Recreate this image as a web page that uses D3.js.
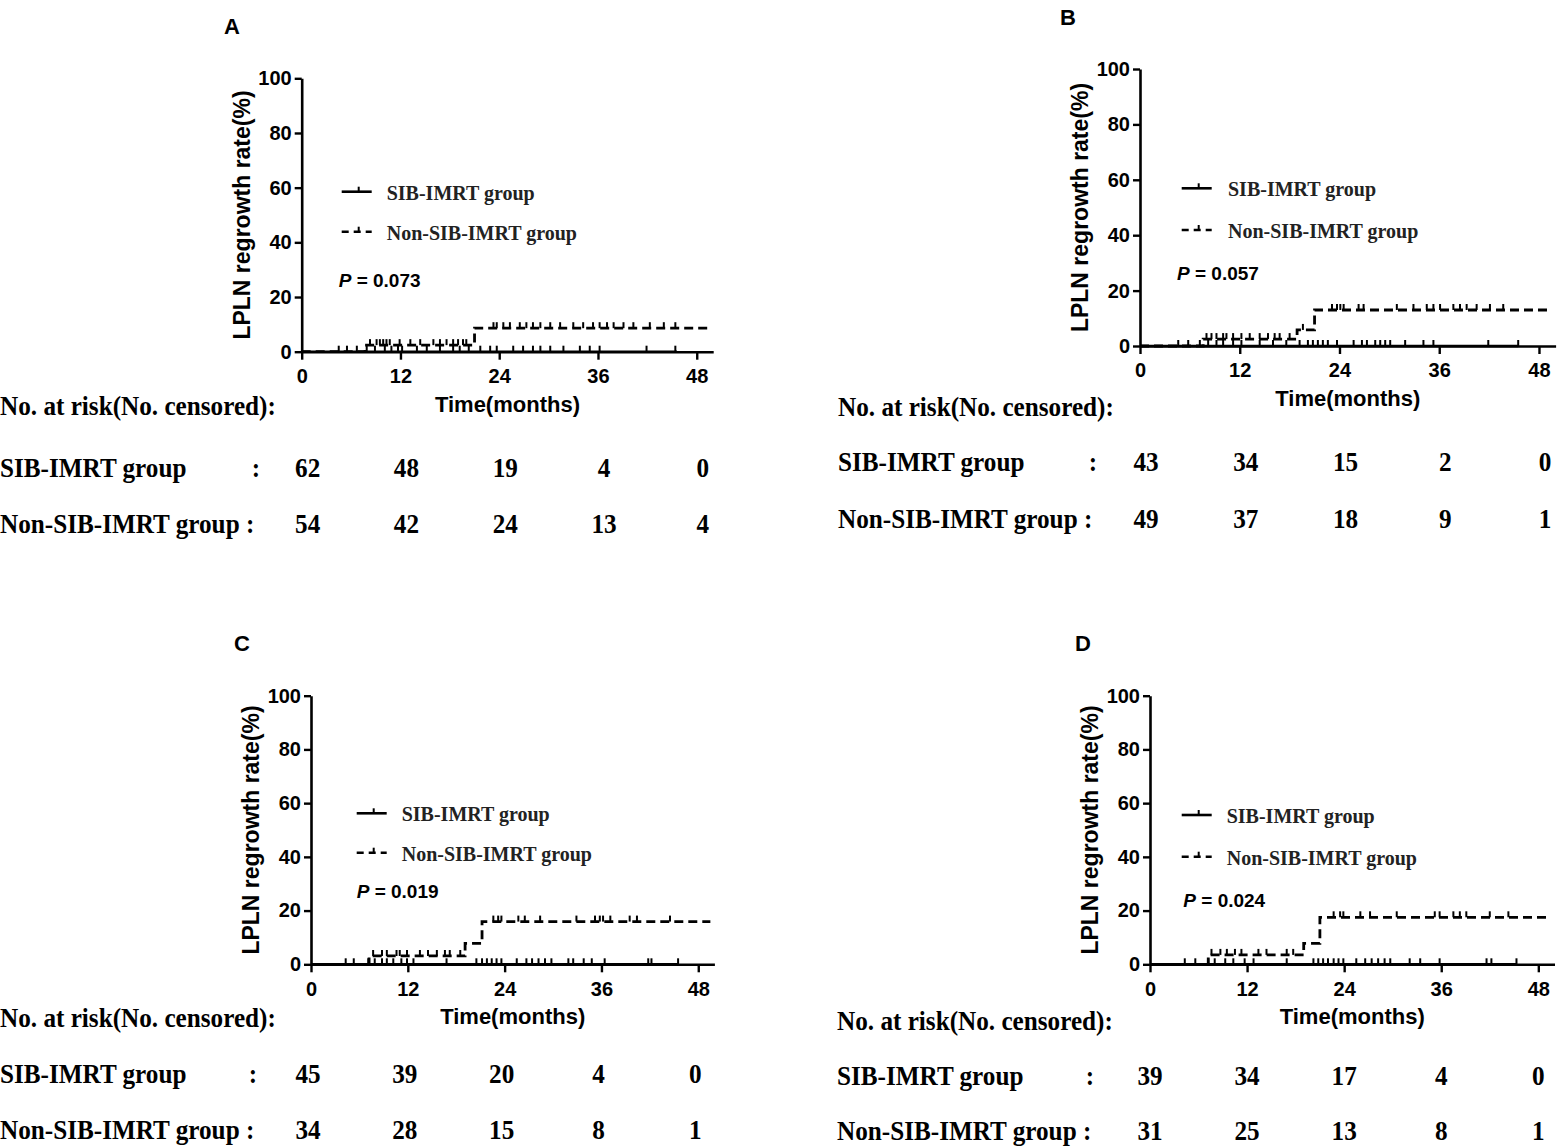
<!DOCTYPE html>
<html>
<head>
<meta charset="utf-8">
<script src="https://cdn.jsdelivr.net/npm/d3@7"></script>
<style>
  body { margin: 0; background: #fff; }
  svg { display: block; }
  .sans { font-family: "Liberation Sans", Arial, sans-serif; font-weight: bold; }
  .serif { font-family: "Liberation Serif", "Times New Roman", serif; font-weight: bold; }
</style>
</head>
<body>
<svg id="chart" width="1558" height="1146"></svg>
<script>
// ---- data ----
const timeTicks = [0, 12, 24, 36, 48]
const rateTicks = [0, 20, 40, 60, 80, 100]
const panelNames = ['A', 'B', 'C', 'D']
const groupNames = ['SIB-IMRT group', 'Non-SIB-IMRT group']
const pValues = ['0.073', '0.057', '0.019', '0.024']

// no. at risk at 0/12/24/36/48 months
const riskSib = [[62, 48, 19, 4, 0], [43, 34, 15, 2, 0], [45, 39, 20, 4, 0], [39, 34, 17, 4, 0]]
const riskNon = [[54, 42, 24, 13, 4], [49, 37, 18, 9, 1], [34, 28, 15, 8, 1], [31, 25, 13, 8, 1]]

// Kaplan-Meier steps of the Non-SIB group [month, rate %]
const stepsNonA = [[0, 0], [7.7, 2.4], [21.0, 8.6], [49.4, 8.6]]
const stepsNonB = [[0, 0], [7.6, 2.5], [18.9, 5.8], [21.0, 13.0], [49.1, 13.0]]
const stepsNonC = [[0, 0], [7.2, 3.1], [19.1, 7.8], [21.2, 15.9], [49.5, 15.9]]
const stepsNonD = [[0, 0], [7.2, 3.5], [19.0, 7.8], [21.0, 17.5], [49.2, 17.5]]

// SIB group never leaves 0
const stepsSibA = [[0, 0], [45.6, 0]]
const stepsSibB = [[0, 0], [45.5, 0]]
const stepsSibC = [[0, 0], [45.5, 0]]
const stepsSibD = [[0, 0], [45.3, 0]]

// censor marks (months)
const censorSibA = [4.5, 5.5, 6.7, 7.9, 8.9, 10.1, 10.9, 11.7, 12.2, 14.0, 15.2, 16.8, 18.4, 19.2, 20.3, 21.7, 22.9, 23.7, 25.7, 26.9, 28.1, 29.0, 30.2, 31.8, 33.8, 35.0, 36.2, 41.9, 45.4]
const censorNonA = [8.3, 9.1, 9.5, 9.9, 10.3, 10.7, 11.9, 13.2, 14.4, 16.0, 16.8, 17.6, 18.4, 19.0, 19.6, 20.0, 23.3, 23.7, 24.5, 25.3, 26.5, 27.3, 28.1, 29.0, 30.2, 31.4, 33.0, 34.2, 35.4, 36.2, 37.1, 37.9, 39.1, 40.3, 42.3, 44.0, 45.4]
const censorSibB = [4.6, 5.8, 7.2, 8.2, 9.2, 10.0, 11.2, 12.2, 14.4, 16.0, 17.6, 19.2, 20.2, 20.8, 21.4, 22.0, 22.6, 23.7, 25.7, 26.7, 27.3, 28.3, 28.9, 29.5, 30.1, 31.9, 34.1, 35.3, 41.9, 45.5]
const censorNonB = [8.0, 8.6, 9.2, 10.0, 10.4, 11.2, 12.2, 13.2, 14.4, 15.4, 16.2, 16.8, 18.0, 19.6, 23.1, 23.7, 24.1, 24.5, 26.3, 26.9, 30.9, 32.9, 34.5, 35.3, 36.1, 37.7, 38.5, 39.3, 40.5, 42.1, 43.7]
const censorSibC = [4.3, 5.3, 7.1, 7.9, 8.8, 9.4, 10.2, 11.2, 11.9, 12.7, 16.8, 20.5, 21.2, 21.8, 22.4, 23.0, 23.6, 25.5, 26.7, 27.4, 28.2, 29.0, 29.8, 31.9, 32.5, 33.8, 34.8, 36.4, 41.8, 42.2, 45.5]
const censorNonC = [7.7, 8.8, 9.4, 10.6, 11.0, 11.9, 13.5, 14.5, 15.6, 16.6, 17.2, 18.5, 22.6, 23.2, 23.6, 25.7, 26.5, 28.4, 32.9, 35.2, 35.8, 36.2, 37.1, 39.5, 40.4, 44.5]
const censorSibD = [4.3, 5.6, 7.2, 8.0, 9.3, 10.3, 11.7, 12.8, 16.9, 20.2, 20.8, 21.4, 22.0, 22.7, 23.3, 23.9, 25.5, 26.6, 27.4, 28.2, 29.0, 29.7, 32.1, 33.4, 35.8, 41.6, 42.2, 45.3]
const censorNonD = [7.6, 8.7, 9.5, 10.5, 11.3, 13.4, 14.4, 16.9, 17.7, 22.7, 23.5, 23.9, 26.0, 27.2, 30.5, 35.2, 35.8, 37.5, 38.3, 39.1, 42.0, 44.3]

const stepsSib = [stepsSibA, stepsSibB, stepsSibC, stepsSibD]
const stepsNon = [stepsNonA, stepsNonB, stepsNonC, stepsNonD]
const censorSib = [censorSibA, censorSibB, censorSibC, censorSibD]
const censorNon = [censorNonA, censorNonB, censorNonC, censorNonD]

// ---- layout (pixels only) ----
const layout = [
  { x0: 301.7, x1: 713.2, y0: 351.7, y1: 78.3, lab: [232, 34], tX: 0, rows: [415, 477, 533], colon: 256, shift: 6, leg: [40, 85, 37], legY: [-160, -120, -65] },
  { x0: 1140, x1: 1555.6, y0: 346, y1: 69, lab: [1068, 25], tX: 838, rows: [416, 471, 528], colon: 1093, shift: 6, leg: [41.7, 88, 37], legY: [-157.7, -116, -66] },
  { x0: 311, x1: 714.4, y0: 964.3, y1: 695.7, lab: [242, 651], tX: 0, rows: [1027, 1083, 1139], colon: 253, shift: -3, leg: [45.7, 90.7, 45.7], legY: [-151, -111.6, -66] },
  { x0: 1150, x1: 1554.5, y0: 964.3, y1: 695.7, lab: [1083, 651], tX: 837, rows: [1030, 1085, 1140], colon: 1090, shift: 0, leg: [31.7, 76.7, 33.3], legY: [-149.3, -107.6, -57.6] }
]

const svg = d3.select('#chart')
const squeeze = 0.9

// value of the step curve at time t
const stepValue = (steps, t) => {
  let v = steps[0][1]
  steps.forEach(s => { if (s[0] <= t) v = s[1] })
  return v
}

layout.forEach((L, i) => {
  const g = svg.append('g')
  const x = d3.scaleLinear().domain([0, 50]).range([L.x0, L.x1])
  const y = d3.scaleLinear().domain([0, 100]).range([L.y0, L.y1])

  // panel letter
  g.append('text').attr('class', 'sans')
    .attr('x', L.lab[0]).attr('y', L.lab[1])
    .attr('text-anchor', 'middle').attr('font-size', 22)
    .text(panelNames[i])

  // axes
  const xAxis = g.append('g')
    .attr('transform', `translate(0,${L.y0})`)
    .call(d3.axisBottom(x).tickValues(timeTicks).tickSize(8).tickPadding(5).tickSizeOuter(0))
  const yAxis = g.append('g')
    .attr('transform', `translate(${L.x0},0)`)
    .call(d3.axisLeft(y).tickValues(rateTicks).tickSize(7).tickPadding(3).tickSizeOuter(0))
  ;[xAxis, yAxis].forEach(a => {
    a.select('.domain').attr('stroke', '#000').attr('stroke-width', 2.6)
    a.selectAll('.tick line').attr('stroke', '#000').attr('stroke-width', 2.4)
    a.selectAll('.tick text').attr('class', 'sans').attr('font-size', 20).attr('fill', '#000')
  })
  xAxis.selectAll('.tick text').attr('dy', '0.92em')

  // axis titles
  g.append('text').attr('class', 'sans')
    .attr('font-size', 23).attr('text-anchor', 'middle')
    .attr('transform', `translate(${L.x0 - 52},${(L.y0 + L.y1) / 2}) rotate(-90)`)
    .text('LPLN regrowth rate(%)')
  g.append('text').attr('class', 'sans')
    .attr('font-size', 22).attr('text-anchor', 'middle')
    .attr('x', (L.x0 + L.x1) / 2).attr('y', L.y0 + 60)
    .text('Time(months)')

  // curves
  const line = d3.line().curve(d3.curveStepAfter)
    .x(d => x(d[0])).y(d => y(d[1]))
  g.append('path').datum(stepsSib[i])
    .attr('d', line).attr('fill', 'none')
    .attr('stroke', '#000').attr('stroke-width', 2.6)
  g.append('path').datum(stepsNon[i])
    .attr('d', line).attr('fill', 'none')
    .attr('stroke', '#000').attr('stroke-width', 2.8)
    .attr('stroke-dasharray', '9,5')

  // censor ticks
  g.selectAll('.cs').data(censorSib[i]).enter().append('line')
    .attr('class', 'cs')
    .attr('x1', d => x(d)).attr('x2', d => x(d))
    .attr('y1', d => y(stepValue(stepsSib[i], d))).attr('y2', d => y(stepValue(stepsSib[i], d)) - 6)
    .attr('stroke', '#000').attr('stroke-width', 2)
  g.selectAll('.cn').data(censorNon[i]).enter().append('line')
    .attr('class', 'cn')
    .attr('x1', d => x(d)).attr('x2', d => x(d))
    .attr('y1', d => y(stepValue(stepsNon[i], d))).attr('y2', d => y(stepValue(stepsNon[i], d)) - 6)
    .attr('stroke', '#000').attr('stroke-width', 2)

  // legend
  const lx = L.x0 + L.leg[0]
  groupNames.forEach((name, k) => {
    const ly = L.y0 + L.legY[k]
    g.append('line')
      .attr('x1', lx).attr('x2', lx + 30).attr('y1', ly).attr('y2', ly)
      .attr('stroke', '#000').attr('stroke-width', 2.6)
      .attr('stroke-dasharray', k === 0 ? null : '7,5')
    g.append('line')
      .attr('x1', lx + 17).attr('x2', lx + 17).attr('y1', ly).attr('y2', ly - 5)
      .attr('stroke', '#000').attr('stroke-width', 2)
    g.append('text').attr('class', 'serif')
      .attr('x', L.x0 + L.leg[1]).attr('y', ly + 8)
      .attr('font-size', 20).attr('fill', '#222')
      .text(name)
  })
  const pt = g.append('text').attr('class', 'sans')
    .attr('x', L.x0 + L.leg[2]).attr('y', L.y0 + L.legY[2])
    .attr('font-size', 19)
  pt.append('tspan').attr('font-style', 'italic').text('P')
  pt.append('tspan').text(' = ' + pValues[i])

  // risk table
  const tt = (tx, ty, txt, anchor) => g.append('text').attr('class', 'serif')
    .attr('font-size', 28).attr('text-anchor', anchor || 'start')
    .attr('transform', `translate(${tx},${ty}) scale(${squeeze},1)`)
    .text(txt)
  tt(L.tX, L.rows[0], 'No. at risk(No. censored):')
  tt(L.tX, L.rows[1], groupNames[0])
  tt(L.colon, L.rows[1], ':', 'middle')
  tt(L.tX, L.rows[2], groupNames[1] + ' :')
  timeTicks.forEach((t, k) => {
    tt(x(t) + L.shift, L.rows[1], riskSib[i][k], 'middle')
    tt(x(t) + L.shift, L.rows[2], riskNon[i][k], 'middle')
  })
})
</script>
</body>
</html>
